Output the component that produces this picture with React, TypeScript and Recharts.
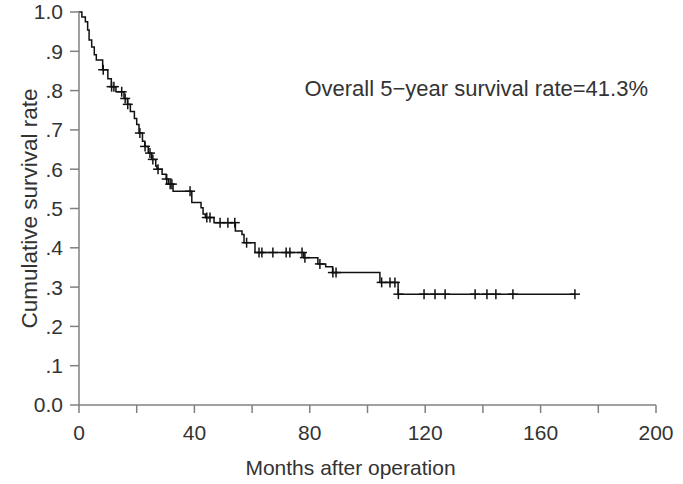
import {
  ComposedChart,
  Line,
  Scatter,
  XAxis,
  YAxis,
  Customized,
} from 'recharts';

// Kaplan-Meier step points: time (months) and survival after each drop
const stepMonths = [
  0, 1.0, 2.2, 3.0, 3.5, 4.4, 5.3, 6.0, 8.2, 10.0, 11.2, 12.8, 15.6, 16.8, 17.8,
  19.2, 20.0, 20.8, 22.0, 22.8, 24.0, 25.2, 26.6, 27.0, 28.8, 30.2, 31.0, 32.6,
  39.1, 42.3, 43.0, 43.8, 46.8, 54.2, 56.5, 57.2, 61.0, 77.9, 82.8, 85.5, 87.9,
  104.3, 110.6, 172,
];
const stepSurvival = [
  1.0, 0.987, 0.975, 0.954, 0.929, 0.911, 0.891, 0.878, 0.853, 0.83, 0.81, 0.797,
  0.78, 0.765, 0.747, 0.729, 0.714, 0.692, 0.671, 0.658, 0.641, 0.625, 0.608,
  0.6, 0.587, 0.575, 0.562, 0.544, 0.515, 0.502, 0.486, 0.477, 0.464, 0.443,
  0.434, 0.413, 0.388, 0.375, 0.359, 0.352, 0.337, 0.312, 0.282, 0.282,
];

// Censored observations (months)
const censorMonths = [
  8.4, 11.3, 12.1, 14.8, 16.0, 16.9, 21.1, 22.9, 24.6, 25.6, 27.4, 30.4, 31.6,
  32.2, 38.5, 44.3, 45.4, 48.9, 51.6, 54.0, 58.1, 62.4, 63.4, 67.2, 71.8, 73.1,
  77.3, 78.3, 83.5, 88.0, 89.1, 104.9, 107.8, 109.5, 110.7, 119.6, 123.4, 126.9,
  137.3, 141.4, 144.5, 150.4, 171.9,
];

const xTicks = [0, 20, 40, 60, 80, 100, 120, 140, 160, 180, 200];
const yTicks = [0, 0.1, 0.2, 0.3, 0.4, 0.5, 0.6, 0.7, 0.8, 0.9, 1.0];

const FONT = '"Liberation Sans", Arial, sans-serif';
const TEXT = '#333333';
const AXIS = '#808080';

const curveData = stepMonths.map((t, i) => ({ t, s: stepSurvival[i] }));

// survival level in effect at a given time
function levelAt(t: number): number {
  let s = stepSurvival[0];
  for (let i = 0; i < stepMonths.length; i++) {
    if (stepMonths[i] <= t) s = stepSurvival[i];
  }
  return s;
}

const censorData = censorMonths.map((t) => ({ t, s: levelAt(t) }));

function CensorMark(props: any) {
  const { cx, cy } = props;
  return (
    <g stroke="#111" strokeWidth={1.5}>
      <line x1={cx} y1={cy - 5} x2={cx} y2={cy + 5} />
      <line x1={cx - 5} y1={cy} x2={cx + 5} y2={cy} />
    </g>
  );
}

function yLabel(v: number): string {
  if (v === 0) return '0.0';
  if (v === 1) return '1.0';
  return '.' + Math.round(v * 10);
}

export default function App() {
  return (
    <div style={{ position: 'absolute', left: 0, top: 0, background: '#fff' }}>
      <ComposedChart
        width={683}
        height={484}
        margin={{ top: 12, right: 27, bottom: 0, left: 0 }}
        style={{ fontFamily: FONT }}
      >
        <XAxis
          type="number"
          dataKey="t"
          domain={[0, 200]}
          ticks={xTicks}
          interval={0}
          tickFormatter={(v: number) => (v % 40 === 0 ? String(v) : '')}
          height={79}
          tickSize={8}
          tickMargin={12}
          axisLine={{ stroke: AXIS, strokeWidth: 1.5 }}
          tickLine={{ stroke: AXIS, strokeWidth: 1.5 }}
          tick={{ fill: TEXT, fontSize: 21, fontFamily: FONT }}
          label={{
            value: 'Months after operation',
            position: 'insideBottom',
            offset: 9,
            dx: -17,
            fill: TEXT,
            fontSize: 21,
            fontFamily: FONT,
          }}
        />
        <YAxis
          type="number"
          dataKey="s"
          domain={[0, 1]}
          ticks={yTicks}
          interval={0}
          tickFormatter={yLabel}
          width={79}
          tickSize={9}
          tickMargin={7}
          axisLine={{ stroke: AXIS, strokeWidth: 1.5 }}
          tickLine={{ stroke: AXIS, strokeWidth: 1.5 }}
          tick={{ fill: TEXT, fontSize: 21, fontFamily: FONT }}
          label={{
            value: 'Cumulative survival rate',
            angle: -90,
            position: 'insideLeft',
            offset: 29,
            style: { textAnchor: 'middle' },
            fill: TEXT,
            fontSize: 22.5,
            fontFamily: FONT,
          }}
        />
        <Line
          data={curveData}
          dataKey="s"
          type="stepAfter"
          stroke="#111"
          strokeWidth={1.5}
          dot={false}
          activeDot={false}
          isAnimationActive={false}
        />
        <Scatter
          data={censorData}
          dataKey="s"
          shape={CensorMark}
          isAnimationActive={false}
        />
        <Customized
          component={() => (
            <text
              x={648}
              y={96}
              textAnchor="end"
              fill={TEXT}
              fontSize={22}
              fontFamily={FONT}
            >
              Overall 5−year survival rate=41.3%
            </text>
          )}
        />
      </ComposedChart>
    </div>
  );
}
